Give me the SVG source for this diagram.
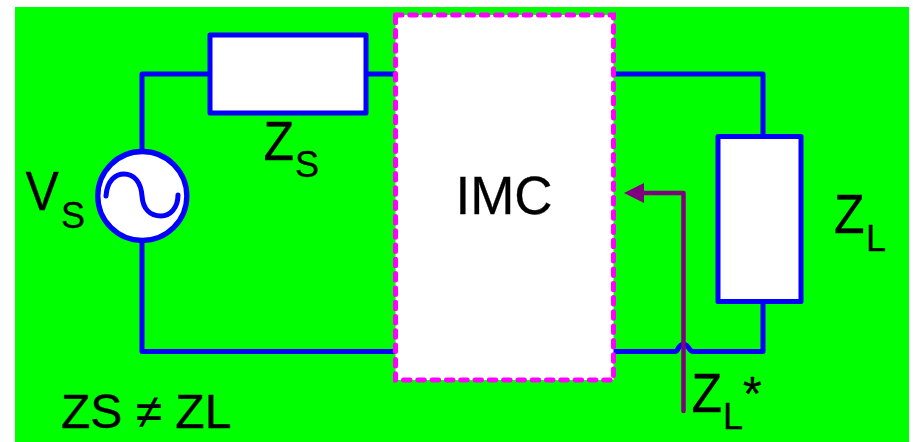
<svg xmlns="http://www.w3.org/2000/svg" width="913" height="442" viewBox="0 0 913 442">
<style>
.w{fill:none;stroke:#0000ff;stroke-width:5;stroke-linecap:round;stroke-linejoin:round}
.b{fill:#fff;stroke:#0000ff;stroke-width:5;stroke-linejoin:round}
.t{font-family:"Liberation Sans",Arial,sans-serif;fill:#000;stroke:#000;stroke-width:.3}
.l{font-size:55px}
.s{font-size:36px}
</style>
<rect x="15" y="7" width="894" height="435" fill="#00ff00"/>
<g id="connectors">
<path class="w" d="M142 150V74H209M366 74H396"/>
<path class="w" d="M142 242V351.500H396"/>
<path class="w" d="M613 74H763V136"/>
<path class="w" d="M763 302V351.500H693C688 351.500 690 344.500 683.500 344.500C677 344.500 679 351.500 675 351.500H613"/>
<path d="M683.500 411V193H644" fill="none" stroke="#800080" stroke-width="4.500" stroke-linecap="round" stroke-linejoin="round"/>
<path d="M624 193L644 183V203Z" fill="#800080"/>
</g>
<g id="imc"><rect x="395.500" y="15" width="218" height="365" fill="#fff" stroke="#ff00ff" stroke-width="5" stroke-dasharray="6.500 7.800" stroke-linecap="round"/><text class="t" x="504" y="214" font-size="53" text-anchor="middle">IMC</text></g>
<g id="zs"><rect class="b" x="210" y="35" width="156" height="78"/><text class="t l" transform="translate(263.500 160) scale(.91 1)">Z</text><text class="t s" x="295" y="177">S</text></g>
<g id="vs"><circle class="b" cx="142.300" cy="196" r="44.500" style="stroke-width:5.300"/><path class="w" d="M106 196C107 180 116 174 124 174C134 174 141 182 142 196C143 209 150 216 161 216C170 216 178 208 178 195"/><text class="t l" transform="translate(25.500 210) scale(.91 1)">V</text><text class="t s" x="61" y="228">S</text></g>
<g id="zl"><rect class="b" x="718" y="136.500" width="83" height="165"/><text class="t l" transform="translate(834 233) scale(.91 1)">Z</text><text class="t s" x="866" y="251">L</text></g>
<g id="zlstar"><text class="t l" transform="translate(691.500 412) scale(.91 1)">Z</text><text class="t s" x="723" y="429">L</text><text class="t" x="743" y="410" font-size="48">*</text></g>
<text class="t" x="61" y="428" font-size="48">ZS ≠ ZL</text>
</svg>
